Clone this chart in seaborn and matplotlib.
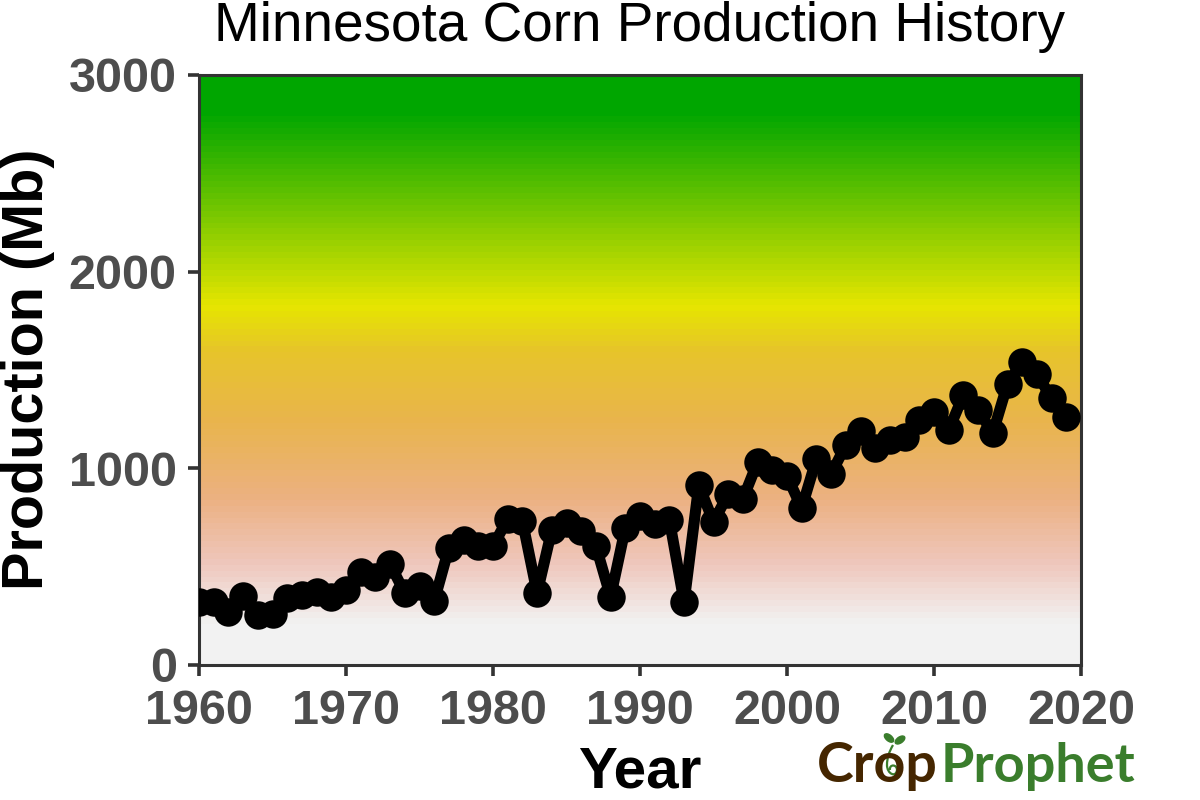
import numpy as np
import pandas as pd
import matplotlib
matplotlib.use("Agg")
import matplotlib.pyplot as plt
from matplotlib.colors import LinearSegmentedColormap
from matplotlib.patches import Ellipse, PathPatch
from matplotlib.path import Path
import seaborn as sns

years = list(range(1960, 2020))
production = [320, 322, 270, 350, 254, 259, 340, 356, 371, 346,
              381, 473, 449, 513, 366, 402, 325, 595, 636, 605,
              605, 742, 732, 366, 686, 722, 681, 605, 346, 696,
              760, 716, 737, 320, 915, 727, 869, 844, 1032, 991,
              961, 798, 1047, 971, 1118, 1189, 1103, 1144, 1159, 1245,
              1286, 1194, 1372, 1296, 1179, 1428, 1540, 1479, 1357, 1261]
title = "Minnesota Corn Production History"
x_ticks = [1960, 1970, 1980, 1990, 2000, 2010, 2020]
y_ticks = [0, 1000, 2000, 3000]
gradient_levels = [0, 200, 510, 840, 1250, 1600, 1830, 2820, 3000]
gradient_colors = ["#F2F2F2", "#F2F2F2", "#EFC7BC", "#ECB182", "#E9B54C", "#E7C52A",
                   "#E6E600", "#00A600", "#00A600"]

sns.set_theme(style="white")
plt.rcParams["font.family"] = ["Liberation Sans", "DejaVu Sans"]

fig = plt.figure(figsize=(12, 8), dpi=100)
ax = fig.add_axes([199 / 1200, 1 - 665 / 800, 882 / 1200, 590 / 800])

cmap = LinearSegmentedColormap.from_list(
    "terrain_like",
    [(v / 3000, c) for v, c in zip(gradient_levels, gradient_colors)], N=100)
ramp = np.linspace(0, 1, 100).reshape(-1, 1)
ax.imshow(ramp, aspect="auto", cmap=cmap, origin="lower",
          extent=(1960, 2020, 0, 3000), interpolation="nearest", zorder=0)

df = pd.DataFrame({"Year": years, "Production": production})
sns.lineplot(data=df, x="Year", y="Production", ax=ax, color="black",
             linewidth=8, marker="o", markersize=20.5, markeredgewidth=0,
             errorbar=None, zorder=3)

ax.set_xlim(1960, 2020)
ax.set_ylim(0, 3000)
ax.set_xticks(x_ticks)
ax.set_yticks(y_ticks)
ax.grid(False)
for s in ax.spines.values():
    s.set_visible(True)
    s.set_color("#333333")
    s.set_linewidth(2.2)
ax.tick_params(axis="both", length=8, width=2.6, color="#333333", pad=8,
               bottom=True, left=True, labelcolor="#4D4D4D", labelsize=35)
ax.tick_params(axis="x", pad=9)
for lab in ax.get_xticklabels() + ax.get_yticklabels():
    lab.set_fontweight("bold")

ax.set_xlabel("")
ax.set_ylabel("")
fig.text(640 / 1200, 1 - 41 / 800, title, ha="center", va="baseline",
         fontsize=39.5, color="black")
fig.text(640 / 1200, 1 - 788 / 800, "Year", ha="center", va="baseline",
         fontsize=42, fontweight="bold", color="black")
fig.text(28 / 1200, 1 - 369 / 800, "Production (Mb)", ha="center", va="center",
         rotation=90, fontsize=41.5, fontweight="bold", color="black")

# Logo wordmark
brown, green = "#452600", "#3A7D2C"
fig.text(817 / 1200, 1 - 782 / 800, "Crop", ha="left", va="baseline",
         fontsize=40, fontweight="bold", color=brown, family="Lato")
fig.text(941 / 1200, 1 - 782 / 800, "Prophet", ha="left", va="baseline",
         fontsize=39, fontweight="bold", color=green, family="Lato")

# Seedling in the logo, drawn in pixel space
ov = fig.add_axes([0, 0, 1, 1], facecolor="none")
ov.set_xlim(0, 1200)
ov.set_ylim(800, 0)
ov.axis("off")
stem = Path([(893, 745), (889, 752), (887, 758), (887, 765),
             (887, 774), (896, 778), (897, 770),
             (897, 764), (889, 764), (890, 770)],
            [Path.MOVETO, Path.CURVE4, Path.CURVE4, Path.CURVE4,
             Path.CURVE4, Path.CURVE4, Path.CURVE4,
             Path.CURVE4, Path.CURVE4, Path.CURVE4])
ov.add_patch(PathPatch(stem, fill=False, edgecolor=green, linewidth=1.6))
ov.add_patch(Ellipse((889, 738), 11, 6, angle=40, color=green))
ov.add_patch(Ellipse((900, 740), 11, 6, angle=-35, color=green))

fig.savefig("out.png", dpi=100, facecolor="white")
